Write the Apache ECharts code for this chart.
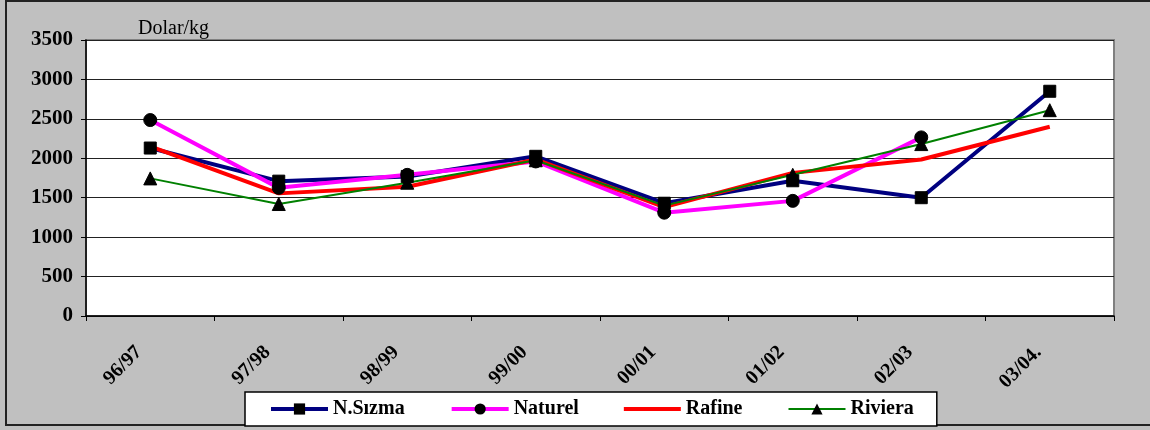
<!DOCTYPE html>
<html>
<head>
<meta charset="utf-8">
<script src="https://cdn.jsdelivr.net/npm/echarts@6/dist/echarts.min.js"></script>
<style>
  html, body { margin: 0; padding: 0; background: #c0c0c0; }
  .frame { position: absolute; left: 5px; top: 0; width: 1150px; height: 426px;
           border: 2px solid #222; border-right: none; box-sizing: border-box; }
  #chart { position: absolute; left: 0; top: 0; width: 1150px; height: 430px; }
</style>
</head>
<body>
<div class="frame"></div>
<div id="chart"></div>
<script>
// seasons on the x axis
const seasons = ['96/97', '97/98', '98/99', '99/00', '00/01', '01/02', '02/03', '03/04.']
// prices, Dolar/kg
const nSizma  = [2130, 1710, 1770, 2025, 1430, 1715, 1500, 2850]
const naturel = [2485, 1625, 1790, 1960, 1310, 1460, 2265, null]
const rafine  = [2150, 1555, 1640, 1985, 1380, 1815, 1985, 2400]
const riviera = [1745, 1420, 1690, 1975, 1400, 1790, 2180, 2610]
const yTicks = { min: 0, max: 3500, step: 500 }

const serif = 'Liberation Serif'
const chart = echarts.init(document.getElementById('chart'))

const option = {
  backgroundColor: 'transparent',
  animation: false,
  title: {
    text: 'Dolar/kg',
    left: 133,
    top: 14,
    textStyle: { fontFamily: serif, fontWeight: 'normal', fontSize: 20, color: '#000' }
  },
  grid: {
    left: 86, right: 36, top: 40, bottom: 114,
    show: true,
    backgroundColor: '#fff',
    borderColor: '#808080',
    borderWidth: 2
  },
  legend: {
    left: 245,
    top: 392,
    padding: [7, 23, 7, 24],
    backgroundColor: '#fff',
    borderColor: '#000',
    borderWidth: 1.5,
    itemGap: 45,
    itemWidth: 57,
    itemHeight: 14,
    textStyle: { fontFamily: serif, fontWeight: 'bold', fontSize: 20, color: '#000' },
    data: [
      { name: 'N.Sızma', lineStyle: { width: 4 } },
      { name: 'Naturel', lineStyle: { width: 4 } },
      // plain red bar, no marker
      { name: 'Rafine', icon: 'path://M0,0 L56,0 L56,4 L0,4 Z', itemStyle: { color: '#ff0000' } },
      { name: 'Riviera', lineStyle: { width: 2 } }
    ]
  },
  xAxis: {
    type: 'category',
    data: seasons,
    boundaryGap: true,
    axisLine: { lineStyle: { color: '#000', width: 1.5 } },
    axisTick: { show: true, length: 5, lineStyle: { color: '#000' } },
    axisLabel: {
      rotate: 45,
      margin: 22,
      padding: [0, 16, 0, 0],
      fontFamily: serif, fontWeight: 'bold', fontSize: 20, color: '#000'
    }
  },
  yAxis: {
    type: 'value',
    min: yTicks.min,
    max: yTicks.max,
    interval: yTicks.step,
    axisLine: { show: true, lineStyle: { color: '#000', width: 1.5 } },
    axisTick: { show: true, length: 5, lineStyle: { color: '#000' } },
    axisLabel: {
      margin: 13,
      formatter: v => String(v),
      fontFamily: serif, fontWeight: 'bold', fontSize: 21, color: '#000'
    },
    splitLine: { lineStyle: { color: '#222', width: 1 } }
  },
  series: [
    {
      name: 'N.Sızma', type: 'line', data: nSizma,
      symbol: 'rect', symbolSize: 12,
      lineStyle: { color: '#000080', width: 4 },
      itemStyle: { color: '#000', borderColor: '#000' },
      color: '#000080'
    },
    {
      name: 'Naturel', type: 'line', data: naturel,
      symbol: 'circle', symbolSize: 13,
      lineStyle: { color: '#ff00ff', width: 4 },
      itemStyle: { color: '#000', borderColor: '#000' },
      color: '#ff00ff'
    },
    {
      name: 'Rafine', type: 'line', data: rafine,
      symbol: 'none',
      lineStyle: { color: '#ff0000', width: 4 },
      itemStyle: { color: '#ff0000' },
      color: '#ff0000'
    },
    {
      name: 'Riviera', type: 'line', data: riviera,
      symbol: 'triangle', symbolSize: 13,
      lineStyle: { color: '#008000', width: 2 },
      itemStyle: { color: '#000', borderColor: '#000' },
      color: '#008000'
    }
  ]
}

chart.setOption(option)
</script>
</body>
</html>
